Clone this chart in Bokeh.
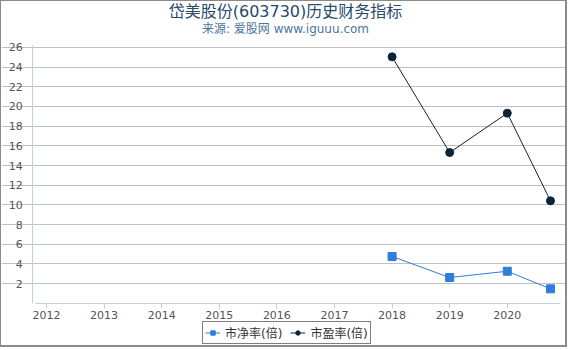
from bokeh.plotting import figure
from bokeh.models import Range1d, FixedTicker, Legend, LegendItem, Label
from bokeh.embed import file_html
from bokeh.resources import INLINE

title_text = "岱美股份(603730)历史财务指标"
subtitle_text = "来源: 爱股网 www.iguuu.com"

# x positions in fractional years (report dates)
dates = [2018.0, 2019.0, 2020.0, 2020.75]
pb = [4.75, 2.61, 3.25, 1.46]
pe = [25.05, 15.32, 19.32, 10.41]
pb_name = "市净率(倍)"
pe_name = "市盈率(倍)"
year_ticks = [2012, 2013, 2014, 2015, 2016, 2017, 2018, 2019, 2020]
y_ticks = [2, 4, 6, 8, 10, 12, 14, 16, 18, 20, 22, 24, 26]

FONT = "DejaVu Sans, Noto Sans CJK SC"

# plot-area extent (data units)
X0, X1 = 2011.81, 2020.92
Y0, Y1 = 0.0, 26.2

p = figure(width=567, height=347, output_backend="svg", toolbar_location=None,
           x_range=Range1d(2011.219, 2021.063), y_range=Range1d(-4.606, 30.676),
           min_border_left=0, min_border_right=0, min_border_top=0,
           min_border_bottom=0)
p.styles = {"border-left": "1px solid #8a8a8a", "border-top": "1px solid #8a8a8a",
            "border-right": "2px solid #8a8a8a", "border-bottom": "2px solid #8a8a8a"}
p.outline_line_color = None
p.background_fill_color = "white"

# axes drawn at fixed positions inside the canvas
p.xaxis.fixed_location = 0
p.xaxis.bounds = (X0, X1)
p.xaxis.ticker = FixedTicker(ticks=year_ticks)
p.xaxis.major_label_overrides = {y: str(y) for y in year_ticks}
p.xaxis.axis_line_color = "#C0D0E0"
p.xaxis.major_tick_line_color = "#C0D0E0"
p.xaxis.major_tick_in = 0
p.xaxis.major_tick_out = 5
p.xaxis.minor_tick_line_color = None
p.xaxis.major_label_text_font = FONT
p.xaxis.major_label_text_font_size = "11px"
p.xaxis.major_label_text_color = "#555555"
p.xaxis.major_label_standoff = 3

p.yaxis.fixed_location = 2011.76
p.yaxis.bounds = (Y0, Y1)
p.yaxis.ticker = FixedTicker(ticks=y_ticks)
p.yaxis.axis_line_color = "#C0D0E0"
p.yaxis.major_tick_line_color = None
p.yaxis.minor_tick_line_color = None
p.yaxis.major_label_text_font = FONT
p.yaxis.major_label_text_font_size = "11px"
p.yaxis.major_label_text_color = "#555555"
p.yaxis.major_label_standoff = 4

p.xgrid.grid_line_color = None
p.ygrid.grid_line_color = "#C0C0C0"
p.ygrid.ticker = FixedTicker(ticks=y_ticks)
p.ygrid.bounds = (X0, X1)

l1 = p.line(dates, pb, line_color="#2f7ed8", line_width=1)
s1 = p.scatter(dates, pb, marker="square", size=8, fill_color="#2f7ed8",
               line_color="#2f7ed8")
l2 = p.line(dates, pe, line_color="#0d233a", line_width=1)
s2 = p.scatter(dates, pe, marker="circle", size=8, fill_color="#0d233a",
               line_color="#0d233a")

p.add_layout(Label(x=284, y=337, x_units="screen", y_units="screen",
                   text=title_text, text_align="center", text_baseline="middle",
                   text_font=FONT, text_font_size="16px", text_color="#274b6d"))
p.add_layout(Label(x=284, y=320, x_units="screen", y_units="screen",
                   text=subtitle_text, text_align="center", text_baseline="middle",
                   text_font=FONT, text_font_size="12px", text_color="#4d759e"))

legend = Legend(items=[LegendItem(label=pb_name, renderers=[l1, s1]),
                       LegendItem(label=pe_name, renderers=[l2, s2])],
                orientation="horizontal", location=(201, 4),
                border_line_color="black", border_line_width=1,
                background_fill_alpha=1.0,
                label_text_font=FONT, label_text_font_size="12px",
                label_text_color="#333333", glyph_width=15, glyph_height=11,
                label_standoff=5, spacing=8, padding=2, margin=0,
                label_height=11)
p.add_layout(legend, "center")

open("out.html", "w").write(file_html(p, INLINE))
